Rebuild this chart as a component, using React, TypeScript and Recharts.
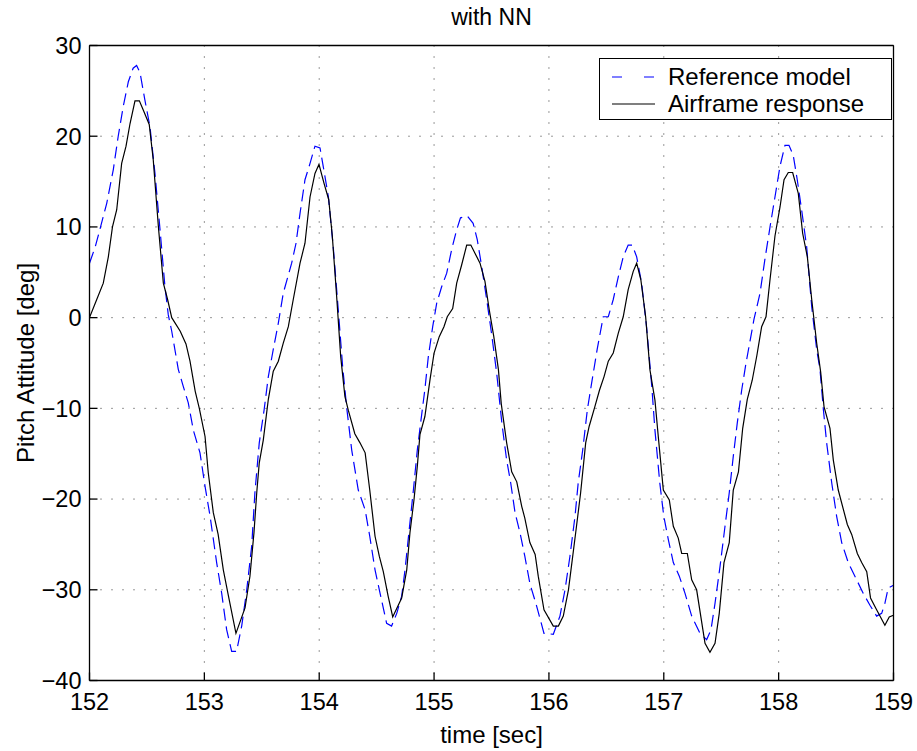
import React from "react";
import { LineChart, Line, XAxis, YAxis, CartesianGrid } from "recharts";

// reference model (dashed blue)
const refTime = [
  152.0, 152.05, 152.09, 152.15, 152.207, 152.25, 152.294, 152.338, 152.38, 152.41, 152.44, 152.482,
  152.527, 152.57, 152.614, 152.657, 152.686, 152.716, 152.773, 152.817, 152.86, 152.904, 152.962,
  153.006, 153.05, 153.107, 153.151, 153.194, 153.238, 153.28, 153.325, 153.369, 153.412, 153.44,
  153.478, 153.52, 153.557, 153.6, 153.644, 153.687, 153.76, 153.798, 153.833, 153.876, 153.92,
  153.963, 154.007, 154.04, 154.08, 154.122, 154.157, 154.204, 154.24, 154.283, 154.34, 154.4,
  154.44, 154.486, 154.53, 154.587, 154.63, 154.675, 154.718, 154.747, 154.79, 154.82, 154.854,
  154.883, 154.92, 154.95, 154.988, 155.023, 155.066, 155.11, 155.153, 155.197, 155.23, 155.29,
  155.34, 155.376, 155.415, 155.458, 155.5, 155.545, 155.59, 155.632, 155.667, 155.705, 155.748,
  155.79, 155.834, 155.893, 155.957, 156.038, 156.096, 156.14, 156.183, 156.227, 156.255, 156.294,
  156.334, 156.372, 156.42, 156.473, 156.517, 156.56, 156.604, 156.647, 156.69, 156.726, 156.764,
  156.807, 156.85, 156.895, 156.923, 156.965, 157.0, 157.04, 157.083, 157.135, 157.185, 157.243,
  157.315, 157.373, 157.411, 157.446, 157.49, 157.533, 157.57, 157.605, 157.64, 157.678, 157.716,
  157.785, 157.838, 157.88, 157.925, 157.968, 158.012, 158.055, 158.09, 158.127, 158.162, 158.2,
  158.244, 158.288, 158.331, 158.36, 158.39, 158.418, 158.462, 158.505, 158.549, 158.606, 158.679,
  158.737, 158.795, 158.853, 158.897, 158.925, 158.954, 159.0,
];
const refPitch = [
  6.0, 7.8, 9.7, 12.6, 16.3, 20.0, 23.3, 26.0, 27.5, 27.8, 27.0, 24.0,
  21.0, 15.9, 9.7, 3.4, 0.3, -1.5, -5.7, -7.6, -9.4, -12.4, -14.9,
  -18.6, -21.9, -27.0, -30.4, -34.4, -36.8, -36.8, -34.0, -30.0, -25.2, -19.3,
  -13.8, -10.2, -6.5, -3.5, -0.6, 2.7, 6.0, 8.2, 11.5, 15.2, 17.0,
  18.9, 18.7, 16.3, 13.3, 7.8, 2.3, -5.4, -10.0, -14.6, -19.0, -21.2,
  -24.1, -27.8, -30.4, -33.7, -34.0, -32.6, -30.7, -27.8, -22.6, -19.0, -14.6,
  -11.6, -7.9, -4.3, -1.0, 1.6, 3.4, 4.9, 7.5, 9.7, 11.0, 11.2,
  10.4, 8.6, 5.6, 2.0, -1.7, -6.1, -11.6, -15.7, -18.2, -21.5, -23.7,
  -26.3, -29.3, -31.8, -34.8, -34.9, -32.9, -30.0, -26.3, -21.9, -18.2, -14.6,
  -10.2, -7.2, -3.5, 0.1, 0.1, 2.0, 4.5, 6.7, 8.0, 8.0, 6.7,
  3.8, -1.0, -7.5, -12.4, -18.2, -21.9, -24.5, -27.0, -28.5, -30.4, -32.9,
  -34.8, -35.5, -34.4, -31.5, -27.4, -23.0, -19.3, -15.3, -11.6, -8.0, -5.0,
  -0.2, 2.7, 6.4, 10.0, 13.3, 16.7, 19.0, 19.0, 17.9, 15.2, 11.9,
  7.8, 1.2, -3.5, -5.7, -10.2, -13.8, -18.2, -21.9, -24.8, -27.0, -28.9,
  -30.4, -31.7, -32.9, -32.6, -31.5, -29.8, -29.5,
];

// airframe response (solid black)
const airTime = [
  152.0, 152.063, 152.12, 152.164, 152.2, 152.237, 152.28, 152.318, 152.353, 152.396, 152.434, 152.468,
  152.52, 152.555, 152.6, 152.643, 152.68, 152.716, 152.79, 152.84, 152.875, 152.92, 152.956,
  153.006, 153.034, 153.078, 153.12, 153.165, 153.21, 153.275, 153.354, 153.397, 153.432, 153.456,
  153.478, 153.513, 153.557, 153.6, 153.644, 153.687, 153.731, 153.774, 153.833, 153.876, 153.92,
  153.963, 153.998, 154.042, 154.083, 154.114, 154.152, 154.187, 154.224, 154.253, 154.31, 154.355,
  154.4, 154.44, 154.486, 154.523, 154.558, 154.6, 154.64, 154.718, 154.762, 154.79, 154.825,
  154.854, 154.877, 154.92, 154.965, 155.0, 155.045, 155.086, 155.115, 155.162, 155.197, 155.24,
  155.284, 155.32, 155.4, 155.443, 155.48, 155.52, 155.56, 155.585, 155.632, 155.676, 155.72,
  155.763, 155.79, 155.834, 155.88, 155.907, 155.957, 156.038, 156.082, 156.125, 156.17, 156.2,
  156.24, 156.276, 156.32, 156.35, 156.4, 156.44, 156.48, 156.517, 156.56, 156.604, 156.647,
  156.69, 156.734, 156.764, 156.8, 156.842, 156.88, 156.923, 156.952, 156.996, 157.048, 157.083,
  157.126, 157.156, 157.205, 157.243, 157.286, 157.359, 157.402, 157.446, 157.483, 157.524, 157.57,
  157.605, 157.65, 157.687, 157.727, 157.77, 157.81, 157.852, 157.89, 157.925, 157.968, 158.012,
  158.047, 158.084, 158.122, 158.171, 158.209, 158.25, 158.288, 158.331, 158.366, 158.395, 158.447,
  158.476, 158.519, 158.598, 158.636, 158.685, 158.723, 158.767, 158.8, 158.853, 158.925, 158.963,
  159.0,
];
const airPitch = [
  0.0, 2.0, 3.8, 6.7, 10.0, 11.9, 17.0, 18.9, 21.4, 23.9, 23.9, 22.9,
  21.3, 17.4, 10.0, 3.8, 2.0, 0.0, -1.5, -2.9, -4.8, -8.1, -10.0,
  -13.1, -17.1, -21.5, -23.9, -27.8, -30.7, -34.8, -32.0, -28.5, -23.7, -19.3,
  -16.0, -13.5, -9.0, -5.9, -4.8, -2.8, -1.0, 2.0, 6.0, 8.2, 13.3,
  15.9, 16.9, 14.8, 13.0, 9.0, 2.3, -4.3, -8.7, -10.2, -12.8, -13.8,
  -14.9, -19.0, -24.1, -26.3, -28.0, -30.7, -33.0, -30.9, -27.8, -23.7, -20.1,
  -16.4, -12.9, -10.9, -6.8, -3.9, -2.1, -1.0, 0.1, 1.0, 3.8, 5.8,
  8.0, 8.0, 6.0, 4.0, 0.9, -2.1, -5.7, -9.5, -13.8, -17.0, -18.1,
  -20.8, -22.1, -24.8, -26.1, -28.5, -32.2, -34.0, -34.0, -32.9, -30.0, -27.0,
  -23.0, -19.3, -13.8, -12.0, -9.8, -8.0, -6.5, -4.8, -3.9, -1.7, 0.1,
  3.1, 5.1, 6.0, 4.2, 0.1, -5.8, -9.1, -13.1, -19.0, -20.1, -23.0,
  -24.3, -26.0, -26.0, -28.9, -30.0, -35.9, -36.9, -35.9, -32.6, -27.0, -24.8,
  -19.0, -17.0, -12.2, -9.0, -6.9, -4.2, -1.0, 0.1, 4.2, 9.0, 12.2,
  15.2, 16.0, 16.0, 13.7, 9.3, 6.7, 2.0, -2.8, -6.0, -9.8, -12.2,
  -15.7, -19.0, -22.8, -23.9, -26.0, -27.0, -28.0, -30.9, -32.2, -33.9, -33.0,
  -32.8,
];

const timeTicks = [152, 153, 154, 155, 156, 157, 158, 159];
const pitchTicks = [-40, -30, -20, -10, 0, 10, 20, 30];

const refData = refTime.map((t, i) => ({ t, v: refPitch[i] }));
const airData = airTime.map((t, i) => ({ t, v: airPitch[i] }));

const FONT = "'Liberation Sans', Arial, Helvetica, sans-serif";
const minus = (v: number) => String(v).replace("-", "\u2212");

const App: React.FC = () => {
  const tickStyle = { fontSize: 23.5, fill: "#000", fontFamily: FONT };
  return (
    <div
      style={{
        position: "absolute",
        left: 0,
        top: 0,
        width: 917,
        height: 751,
        background: "#fff",
        fontFamily: FONT,
      }}
    >
      <LineChart
        width={917}
        height={751}
        margin={{ top: 44.5, right: 22.5, bottom: 40.5, left: 29.5 }}
      >
        <CartesianGrid stroke="#333" strokeDasharray="1 10" />
        <XAxis
          dataKey="t"
          type="number"
          domain={[152, 159]}
          ticks={timeTicks}
          allowDataOverflow
          height={30}
          stroke="#000"
          strokeWidth={1.3}
          tickSize={-8}
          tickMargin={21}
          tick={tickStyle}
        />
        <XAxis
          xAxisId="top"
          orientation="top"
          type="number"
          domain={[152, 159]}
          ticks={timeTicks}
          height={1}
          stroke="#000"
          strokeWidth={1.3}
          tickSize={-8}
          tick={false}
        />
        <YAxis
          type="number"
          domain={[-40, 30]}
          ticks={pitchTicks}
          allowDataOverflow
          width={60}
          stroke="#000"
          strokeWidth={1.3}
          tickSize={-8}
          tickMargin={16}
          tick={tickStyle}
          tickFormatter={minus}
        />
        <YAxis
          yAxisId="right"
          orientation="right"
          type="number"
          domain={[-40, 30]}
          ticks={pitchTicks}
          width={1}
          stroke="#000"
          strokeWidth={1.3}
          tickSize={-8}
          tick={false}
        />
        <Line
          data={refData}
          dataKey="v"
          type="linear"
          stroke="#0000ff"
          strokeWidth={1.2}
          strokeDasharray="12 6"
          dot={false}
          isAnimationActive={false}
        />
        <Line
          data={airData}
          dataKey="v"
          type="linear"
          stroke="#000"
          strokeWidth={1.2}
          dot={false}
          isAnimationActive={false}
        />
      </LineChart>

      {/* title */}
      <div
        style={{
          position: "absolute",
          left: 491.5,
          top: 17,
          transform: "translate(-50%, -50%)",
          fontSize: 23,
          whiteSpace: "nowrap",
        }}
      >
        with NN
      </div>

      {/* x label */}
      <div
        style={{
          position: "absolute",
          left: 491.5,
          top: 735,
          transform: "translate(-50%, -50%)",
          fontSize: 24,
          whiteSpace: "nowrap",
        }}
      >
        time [sec]
      </div>

      {/* y label */}
      <div
        style={{
          position: "absolute",
          left: 26,
          top: 363,
          transform: "translate(-50%, -50%) rotate(-90deg)",
          fontSize: 24,
          whiteSpace: "nowrap",
        }}
      >
        Pitch Attitude [deg]
      </div>

      {/* legend */}
      <div
        style={{
          position: "absolute",
          left: 599,
          top: 58,
          width: 293,
          height: 62,
          boxSizing: "border-box",
          border: "1.3px solid #000",
          background: "#fff",
          fontSize: 24,
        }}
      >
        {[
          { name: "Reference model", color: "#0000ff", dash: "10 22" },
          { name: "Airframe response", color: "#000", dash: undefined },
        ].map((item, i) => (
          <div
            key={i}
            style={{
              position: "absolute",
              left: 0,
              top: i === 0 ? 18 : 45,
              display: "flex",
              alignItems: "center",
              transform: "translateY(-50%)",
              whiteSpace: "nowrap",
            }}
          >
            <svg width={68} height={10} style={{ display: "block" }}>
              <line
                x1={12}
                x2={55}
                y1={5}
                y2={5}
                stroke={item.color}
                strokeWidth={1.2}
                strokeDasharray={item.dash}
              />
            </svg>
            <span>{item.name}</span>
          </div>
        ))}
      </div>
    </div>
  );
};

export default App;
